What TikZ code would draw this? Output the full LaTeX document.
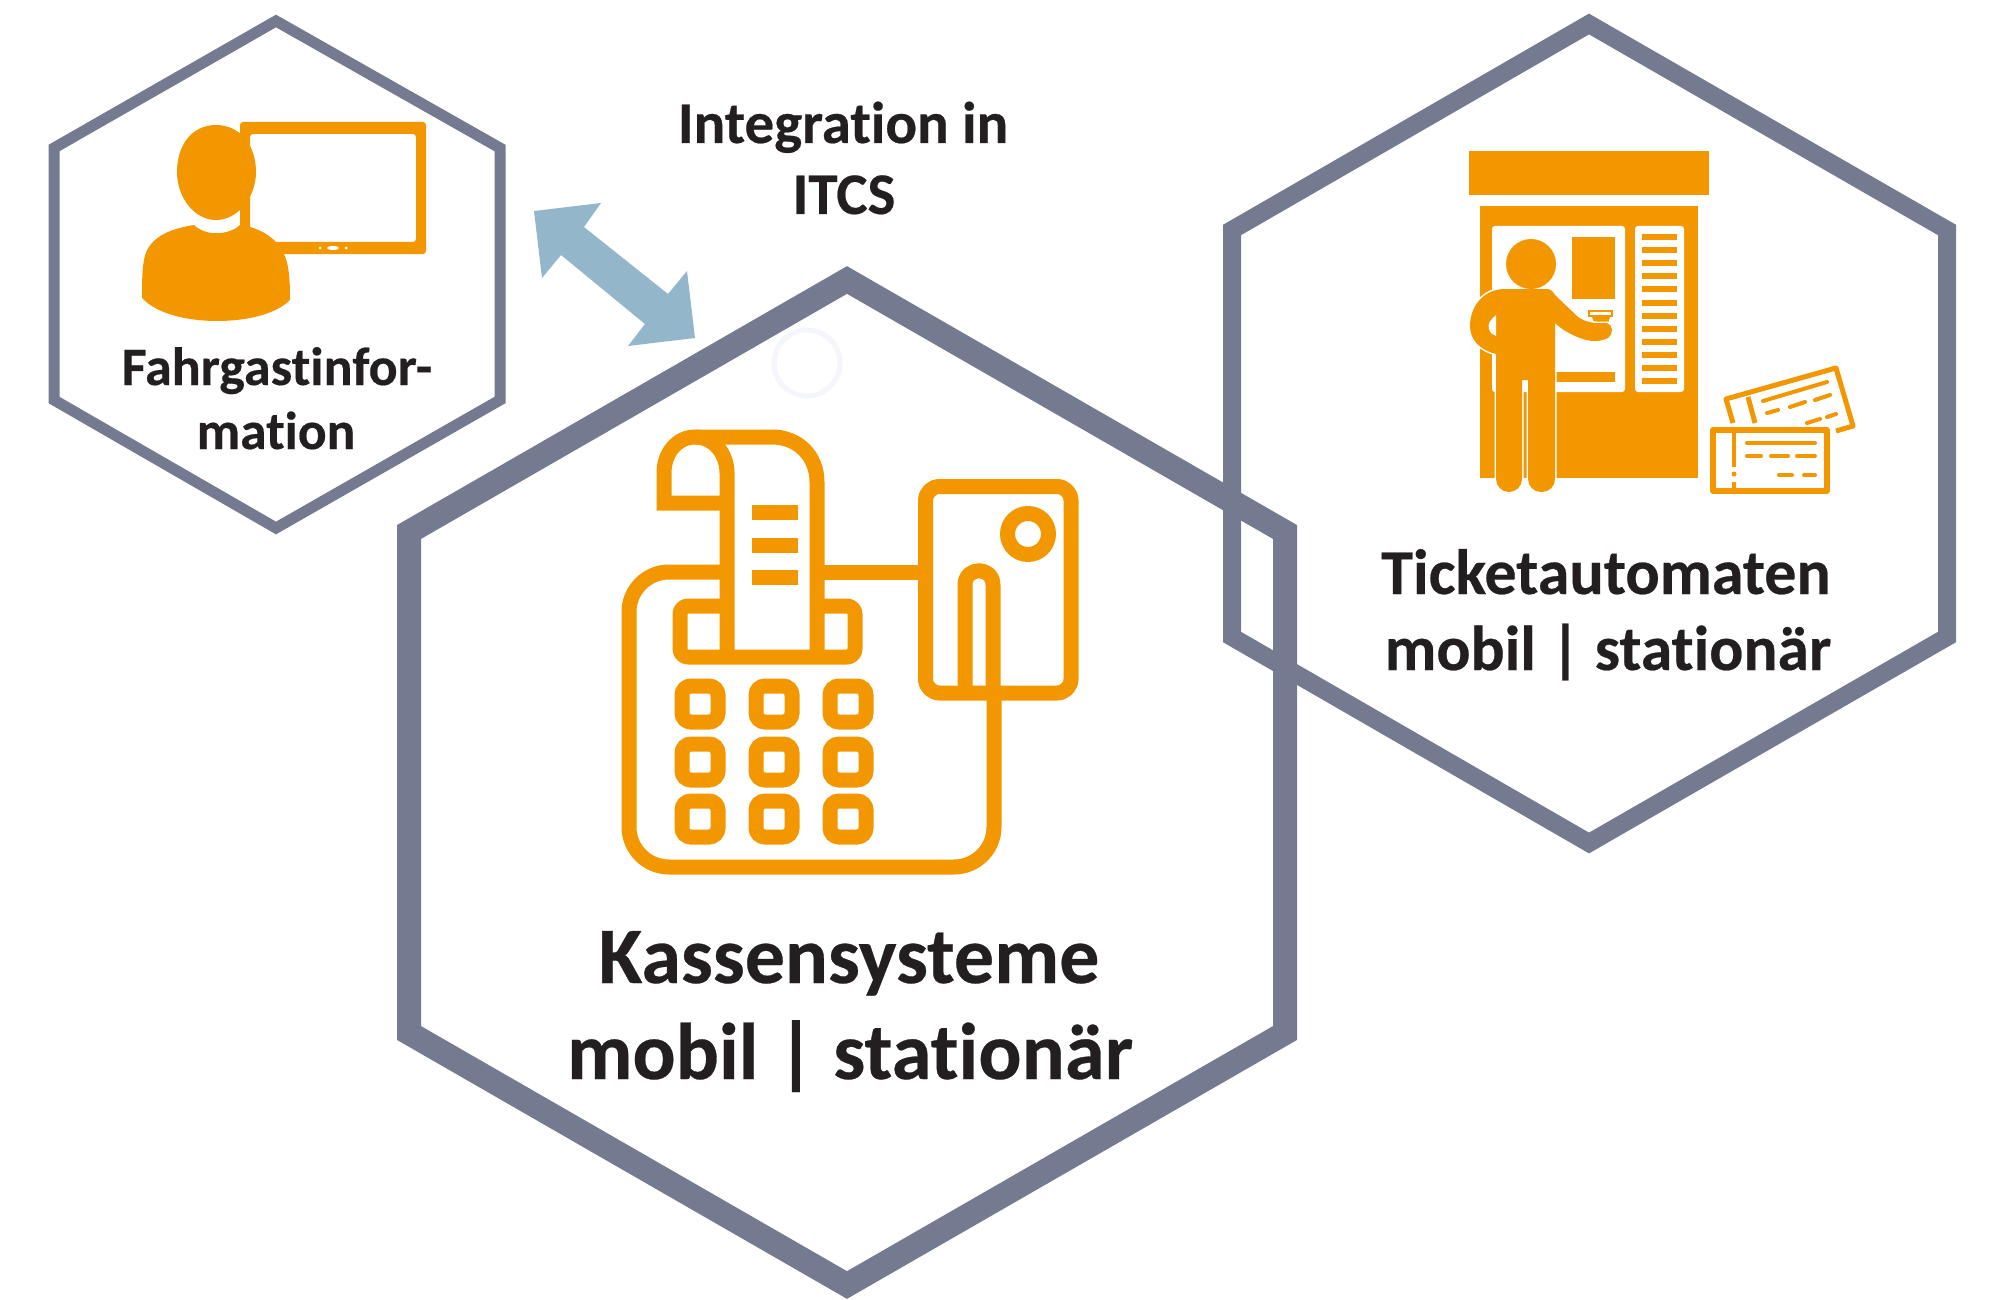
\documentclass[tikz,border=0pt]{standalone}
\usepackage{fontspec}
\setmainfont{Carlito}[Ligatures=NoCommon,BoldFeatures={FakeBold=0.35}]
\definecolor{hexgray}{RGB}{116,122,143}
\definecolor{iconorange}{RGB}{243,151,0}
\definecolor{arrowblue}{RGB}{147,182,203}
\definecolor{labelink}{RGB}{35,31,32}
\definecolor{faintring}{RGB}{245,246,251}
\newcommand{\lbl}[1]{\fontsize{#1}{#1}\selectfont\bfseries}
\tikzset{
  hexline/.style={draw=hexgray,line join=miter,miter limit=10},
  label/.style={inner sep=0pt,anchor=base,text=labelink,font=\bfseries},
  oline/.style={draw=iconorange,line width=15pt,line join=round},
  tline/.style={draw=iconorange,line width=4pt,line cap=round},
  keycap/.style={draw=iconorange,line width=15pt,rounded corners=9pt}
}
\newcommand{\personpath}{(1505,289) -- (1545,289) .. controls (1550,289) and (1552,290) .. (1555,295) -- (1578,317) .. controls (1585,322) and (1595,324) .. (1607,323) .. controls (1613,325) and (1614,333) .. (1608,338) .. controls (1600,342) and (1590,342) .. (1580,338) .. controls (1572,335) and (1562,330) .. (1555,323) [rounded corners=13pt] -- (1555,492) -- (1528,492) [sharp corners] -- (1528,380) -- (1522,380) [rounded corners=13pt] -- (1522,492) -- (1496,492) [sharp corners] -- (1496,354) .. controls (1480,350) and (1470,340) .. (1470,326) .. controls (1470,308) and (1482,289) .. (1505,289) -- cycle}
\begin{document}
\begin{tikzpicture}[x=1pt,y=-1pt]
\useasboundingbox (0,0) rectangle (2000,1300);
\fill[white] (0,0) rectangle (2000,1300);
% hexagons
\draw[hexline,line width=11pt] (276,21) -- (500,148) -- (500,400) -- (276,528) -- (54,400) -- (54,148) -- cycle;
\draw[hexline,line width=18pt] (1589,24) -- (1947,230) -- (1947,637) -- (1589,843) -- (1232,637) -- (1232,230) -- cycle;
\draw[hexline,line width=24pt] (847,280) -- (1285,532) -- (1285,1033) -- (847,1285) -- (409,1033) -- (409,532) -- cycle;
% faint circle
\draw[color=faintring,line width=5pt] (807,363) circle[radius=33pt];
% double arrow
\fill[arrowblue] (534,211) -- (601,203) -- (584,227) -- (668,294) -- (687,271) -- (695,338) -- (628,346) -- (645,324) -- (561,255) -- (542,278) -- cycle;
% person + screen
\fill[iconorange,rounded corners=3pt,even odd rule] (240,122) -- (426,122) -- (426,254) -- (240,254) -- cycle (250,134) -- (416,134) -- (416,242) -- (250,242) -- cycle;
\fill[white] (320,248) circle[radius=1.5pt] (346,248) circle[radius=1.5pt] (333,248) ellipse[x radius=6pt,y radius=2pt];
\fill[iconorange] (216,125) .. controls (240,125) and (256,145) .. (256,172) .. controls (256,197) and (238,220) .. (216,220) .. controls (194,220) and (177,197) .. (177,172) .. controls (177,145) and (192,125) .. (216,125) -- cycle;
\fill[iconorange] (194,225) .. controls (205,236) and (228,236) .. (240,225) .. controls (262,228) and (283,240) .. (288,267) .. controls (290,280) and (290,290) .. (290,300) .. controls (275,315) and (245,321) .. (217,321) .. controls (190,321) and (158,315) .. (142,298) .. controls (142,285) and (142,270) .. (144,260) .. controls (148,235) and (175,228) .. (194,225) -- cycle;
% machine
\fill[iconorange] (1469,151) rectangle (1709,195);
\fill[iconorange] (1480,206) rectangle (1698,478);
\fill[white,rounded corners=3pt] (1492,226) rectangle (1625,392);
\fill[white,rounded corners=3pt] (1635,226) rectangle (1684,392);
\foreach \i in {0,...,11} {\fill[iconorange] (1642,{234+13.1*\i}) rectangle (1677,{240+13.1*\i});}
\fill[iconorange] (1572,237) rectangle (1615,299);
\fill[iconorange] (1550,372) rectangle (1615,382);
\draw[iconorange,line width=1.6pt] (1589,311) rectangle (1612,316);
\fill[iconorange] (1592,317) -- (1610,317) -- (1608,323) -- (1594,323) -- cycle;
\path[fill=white,draw=white,line width=3pt] \personpath;
\fill[iconorange] \personpath;
\fill[iconorange] (1531,264) circle[radius=25pt];
\fill[white] (1496,315) .. controls (1491,320) and (1487,323) .. (1489,329) .. controls (1490,333) and (1493,335) .. (1496,336) -- cycle;
% tickets
\draw[iconorange,line width=5pt,line join=round] (1733,423) -- (1726,399) -- (1836,368) -- (1853,426) -- (1836,431);
\draw[iconorange,line width=5pt] (1748,397) -- (1755,423);
\draw[tline] (1763,401) -- (1827,382);
\draw[tline] (1767,413) -- (1778,410);
\draw[tline] (1790,407) -- (1805,402);
\draw[tline] (1815,400) -- (1830,395);
\draw[tline] (1807,423) -- (1820,419);
\draw[tline] (1827,417) -- (1836,414);
\draw[iconorange,line width=5.5pt,line join=round] (1713,430) rectangle (1827,491);
\draw[iconorange,line width=4.5pt] (1734,430) -- (1734,467);
\fill[iconorange] (1734,474) circle[radius=2.5pt];
\draw[iconorange,line width=4.5pt] (1734,482) -- (1734,491);
\draw[tline] (1747,443) -- (1815,443);
\draw[tline] (1747,456) -- (1761,456);
\draw[tline] (1771,456) -- (1788,456);
\draw[tline] (1797,456) -- (1815,456);
\draw[tline] (1779,475) -- (1792,475);
\draw[tline] (1804,475) -- (1815,475);
% cash register
\draw[oline] (994,700) [rounded corners=40pt] -- (994,867) -- (629,867) -- (629,572) [sharp corners] -- (720,572);
\draw[oline] (817,572) -- (925,572);
\draw[oline,line join=miter] (727,503) -- (664,503) -- (664,473) .. controls (664,452) and (678,437) .. (695,437) -- (772,437) .. controls (798,437) and (817,456) .. (817,482) -- (817,657);
\draw[oline] (695,437) .. controls (714,437) and (727,454) .. (727,473) -- (727,657);
\draw[oline] (727,606) [rounded corners=8pt] -- (680,606) -- (680,657) -- (855,657) -- (855,606) [sharp corners] -- (817,606);
\foreach \kx in {700,774,848} {\foreach \ky in {704,762,819} {\draw[keycap] (\kx-18,\ky-18) rectangle (\kx+18,\ky+18);}}
\fill[iconorange] (752,505) rectangle (798,520);
\fill[iconorange] (752,538) rectangle (798,553);
\fill[iconorange] (752,570) rectangle (798,585);
\draw[oline,rounded corners=14pt] (925.5,486.5) rectangle (1071,693);
\draw[oline] (1028,534) circle[radius=20.5pt];
\draw[oline,line join=round] (965,693) -- (965,585) .. controls (965,566) and (993,566) .. (993,585) -- (993,693);
% labels
\node[label] (fahrg) at (277,385) {\lbl{54}Fahrgastinfor-};
\node[label] (mation) at (276,449) {\lbl{53.5}mation};
\node[label] (integ) at (843,143) {\lbl{59}Integration in};
\node[label] (itcs) at (844,214) {\lbl{59}ITCS};
\node[label] (kass) at (849,983) {\lbl{80}Kassensysteme};
\node[label] (kmobil) at (850,1079) {\lbl{80.5}mobil | stationär};
\node[label] (tick) at (1606,594) {\lbl{64}Ticketautomaten};
\node[label] (tmobil) at (1608,670) {\lbl{63.5}mobil | stationär};
\end{tikzpicture}
\end{document}
